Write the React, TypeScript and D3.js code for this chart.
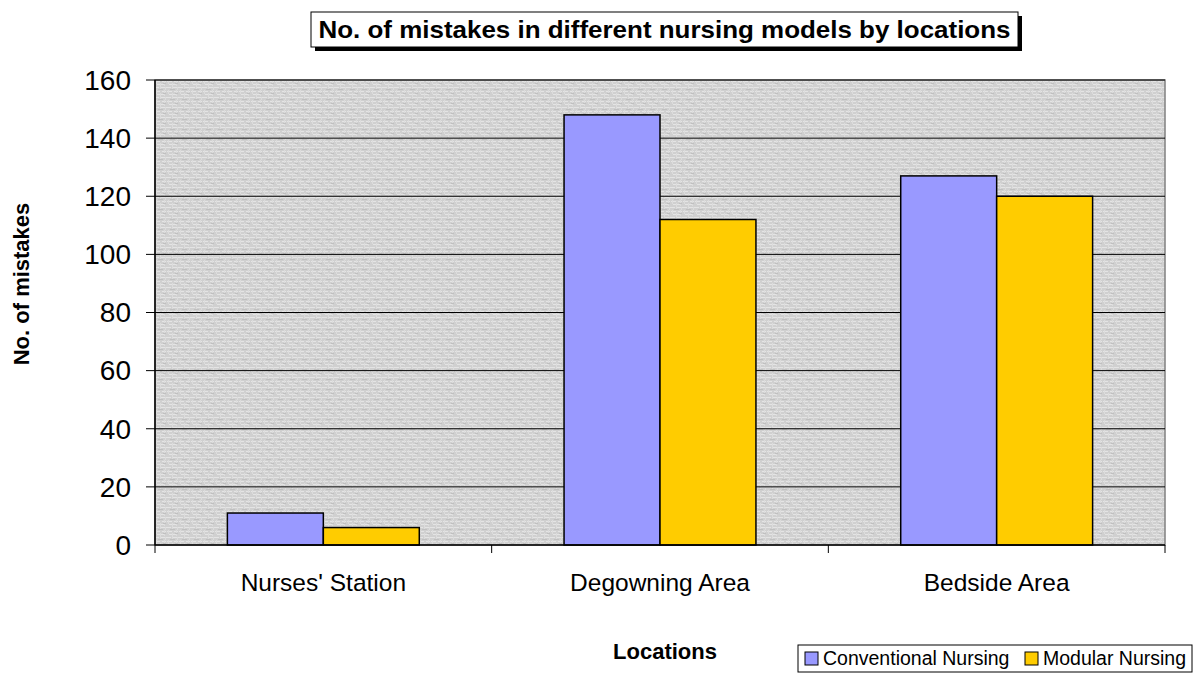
import React from 'react';
import * as d3 from 'd3';

const categories = ["Nurses' Station", 'Degowning Area', 'Bedside Area'];
const seriesNames = ['Conventional Nursing', 'Modular Nursing'];
const conventional = [11, 148, 127];
const modular = [6, 112, 120];
const yTicks = [0, 20, 40, 60, 80, 100, 120, 140, 160];
const colors = ['#9999ff', '#ffcc00'];

const W = 1196;
const H = 673;
const margin = { top: 80, right: 31, bottom: 128, left: 155 };

export default function App() {
  const w = W - margin.left - margin.right;
  const h = H - margin.top - margin.bottom;

  const x = d3
    .scaleBand()
    .domain(categories)
    .range([0, w])
    .paddingInner(0.43)
    .paddingOuter(0.215);
  const x1 = d3.scaleBand().domain(seriesNames).range([0, x.bandwidth()]);
  const y = d3.scaleLinear().domain([0, 160]).range([h, 0]);

  const rows = categories.map((c, i) => ({
    cat: c,
    vals: [conventional[i], modular[i]],
  }));
  const step = x.step();
  const boundaries = d3.range(categories.length + 1).map((i) => i * step);

  return (
    <svg
      width={W}
      height={H}
      style={{ position: 'absolute', left: 0, top: 0, fontFamily: 'Arial, "Liberation Sans", sans-serif' }}
    >
      <defs>
        <pattern id="tex" width="12" height="10" patternUnits="userSpaceOnUse">
          <rect width="12" height="10" fill="#d0d0d0" />
          <path d="M0 1.5H5M7 1.5H11M2 4.5H9M0 7.5H4M6 7.5H12" stroke="#e4e4e4" strokeWidth="1" />
          <path d="M1.5 0V4M5.5 3V9M9.5 0V6M10.5 7V10" stroke="#dcdcdc" strokeWidth="1" />
          <path d="M3 9.5H8M8 3.5H11" stroke="#c0c0c0" strokeWidth="1" />
        </pattern>
      </defs>

      {/* title */}
      <rect x={315} y={16} width={707} height={35} fill="#000" />
      <rect x={311} y={12} width={707} height={35} fill="#fff" stroke="#000" strokeWidth={1} />
      <text
        x={664.5}
        y={38}
        textAnchor="middle"
        fontSize={24}
        fontWeight="bold"
        textLength={692}
        lengthAdjust="spacingAndGlyphs"
      >
        No. of mistakes in different nursing models by locations
      </text>

      <g transform={`translate(${margin.left},${margin.top})`}>
        <rect width={w} height={h} fill="url(#tex)" stroke="#808080" strokeWidth={1.5} />
        {yTicks.slice(1).map((t) => (
          <line key={t} x1={0} x2={w} y1={y(t)} y2={y(t)} stroke="#000" strokeWidth={1} />
        ))}

        {rows.map((r) => (
          <g key={r.cat} transform={`translate(${x(r.cat)},0)`}>
            {r.vals.map((v, j) => (
              <rect
                key={j}
                x={x1(seriesNames[j])}
                y={y(v)}
                width={x1.bandwidth()}
                height={h - y(v)}
                fill={colors[j]}
                stroke="#000"
                strokeWidth={1.5}
              />
            ))}
          </g>
        ))}

        {/* y axis */}
        <line x1={0} x2={0} y1={0} y2={h} stroke="#000" strokeWidth={1.5} />
        {yTicks.map((t) => (
          <g key={t} transform={`translate(0,${y(t)})`}>
            <line x1={-9} x2={0} stroke="#000" strokeWidth={1} />
            <text x={-24} dy="0.35em" textAnchor="end" fontSize={28}>
              {t}
            </text>
          </g>
        ))}

        {/* x axis */}
        <line x1={0} x2={w} y1={h} y2={h} stroke="#000" strokeWidth={1.5} />
        {boundaries.map((b, i) => (
          <line key={i} x1={b} x2={b} y1={h} y2={h + 8} stroke="#000" strokeWidth={1} />
        ))}
        {categories.map((c) => (
          <text key={c} x={(x(c) as number) + x.bandwidth() / 2} y={h + 46} textAnchor="middle" fontSize={24.5}>
            {c}
          </text>
        ))}
      </g>

      {/* axis titles */}
      <text x={665} y={659} textAnchor="middle" fontSize={22} fontWeight="bold">
        Locations
      </text>
      <text
        transform="translate(29,284) rotate(-90)"
        textAnchor="middle"
        fontSize={22}
        fontWeight="bold"
      >
        No. of mistakes
      </text>

      {/* legend */}
      <rect x={798} y={645} width={394} height={27} fill="#fff" stroke="#000" strokeWidth={1} />
      {seriesNames.map((s, i) => {
        const lx = i === 0 ? 805 : 1025;
        return (
          <g key={s}>
            <rect x={lx} y={652} width={13} height={13} fill={colors[i]} stroke="#000" strokeWidth={1} />
            <text x={lx + 18} y={665} fontSize={19.5}>
              {s}
            </text>
          </g>
        );
      })}
    </svg>
  );
}
